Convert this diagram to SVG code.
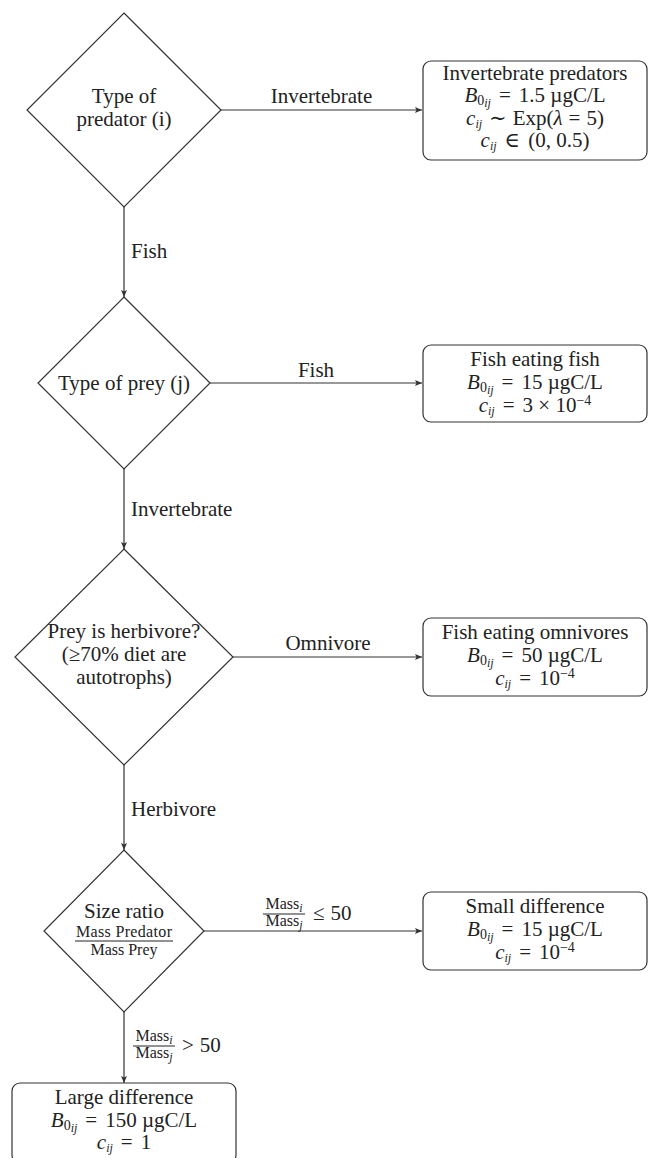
<svg xmlns="http://www.w3.org/2000/svg" width="651" height="1158" viewBox="0 0 651 1158">
<style>
.t{font-family:'Liberation Serif','Times New Roman','DejaVu Serif',serif;font-size:21px;fill:#222;text-anchor:middle}
.s{text-anchor:start}
.f{font-size:16px}
.i{font-style:italic}
.sub{font-size:14px}
.ss{font-size:12px;font-style:italic}
.shape{fill:#fff;stroke:#333;stroke-width:1.2}
.edge{fill:none;stroke:#333;stroke-width:1.2;marker-end:url(#arr)}
.bar{stroke:#222;stroke-width:1}
</style>
<defs>
<marker id="arr" markerUnits="userSpaceOnUse" markerWidth="8" markerHeight="6" refX="7" refY="3" orient="auto">
<path d="M0,0 L7,3 L0,6 L1.5,3 Z" fill="#333"/>
</marker>
</defs>
<g id="connectors">
<path class="edge" d="M221,110 H422"/>
<path class="edge" d="M124,207 V297"/>
<path class="edge" d="M210,383 H422"/>
<path class="edge" d="M124,469 V549"/>
<path class="edge" d="M233,657 H422"/>
<path class="edge" d="M124,765 V850"/>
<path class="edge" d="M204,931 H422"/>
<path class="edge" d="M124,1012 V1083"/>
<text class="t" x="321.5" y="103">Invertebrate</text>
<text class="t s" x="131" y="258">Fish</text>
<text class="t" x="316" y="377">Fish</text>
<text class="t s" x="131" y="516">Invertebrate</text>
<text class="t" x="328" y="650">Omnivore</text>
<text class="t s" x="131" y="816">Herbivore</text>
<g id="label-le50">
<text class="t f" x="284" y="909">Mass<tspan class="ss" dy="3">i</tspan></text>
<line class="bar" x1="263" y1="914" x2="305" y2="914"/>
<text class="t f" x="284" y="926">Mass<tspan class="ss" dy="3">j</tspan></text>
<text class="t s" x="313" y="920">≤<tspan dx="6">50</tspan></text>
</g>
<g id="label-gt50">
<text class="t f" x="154" y="1041">Mass<tspan class="ss" dy="3">i</tspan></text>
<line class="bar" x1="133" y1="1046" x2="175" y2="1046"/>
<text class="t f" x="154" y="1058">Mass<tspan class="ss" dy="3">j</tspan></text>
<text class="t s" x="182" y="1052">&gt;<tspan dx="6">50</tspan></text>
</g>
</g>
<g id="d1">
<polygon class="shape" points="124,13 221,110 124,207 27,110"/>
<text class="t" x="124" y="103">Type of</text>
<text class="t" x="124" y="126">predator (i)</text>
</g>
<g id="d2">
<polygon class="shape" points="124,297 210,383 124,469 38,383"/>
<text class="t" x="124" y="390">Type of prey (j)</text>
</g>
<g id="d3">
<polygon class="shape" points="124,549 233,657 124,765 15,657"/>
<text class="t" x="124" y="638">Prey is herbivore?</text>
<text class="t" x="124" y="661">(≥70% diet are</text>
<text class="t" x="124" y="684">autotrophs)</text>
</g>
<g id="d4">
<polygon class="shape" points="124,850 204,931 124,1012 44,931"/>
<text class="t" x="124" y="918">Size ratio</text>
<text class="t f" x="124" y="937" textLength="96">Mass Predator</text>
<line class="bar" x1="75" y1="941" x2="173" y2="941"/>
<text class="t f" x="124" y="955">Mass Prey</text>
</g>
<g id="b1">
<rect class="shape" x="423" y="61" width="224" height="99" rx="8"/>
<text class="t" x="535" y="80">Invertebrate predators</text>
<text class="t" x="535" y="102"><tspan class="i">B</tspan><tspan class="sub" dy="3">0</tspan><tspan class="ss" dy="2">ij</tspan><tspan dy="-5" dx="8">=</tspan><tspan dx="8">1.5 µgC/L</tspan></text>
<text class="t" x="535" y="125"><tspan class="i">c</tspan><tspan class="ss" dy="3">ij</tspan><tspan dy="-3" dx="7">∼</tspan><tspan dx="6">Exp(</tspan><tspan class="i">λ</tspan><tspan dx="6">=</tspan><tspan dx="6">5)</tspan></text>
<text class="t" x="535" y="147"><tspan class="i">c</tspan><tspan class="ss" dy="3">ij</tspan><tspan dy="-3" dx="8">∈</tspan><tspan dx="8">(0, 0.5)</tspan></text>
</g>
<g id="b2">
<rect class="shape" x="423" y="345" width="224" height="77" rx="8"/>
<text class="t" x="535" y="366">Fish eating fish</text>
<text class="t" x="535" y="389"><tspan class="i">B</tspan><tspan class="sub" dy="3">0</tspan><tspan class="ss" dy="2">ij</tspan><tspan dy="-5" dx="8">=</tspan><tspan dx="8">15 µgC/L</tspan></text>
<text class="t" x="535" y="412"><tspan class="i">c</tspan><tspan class="ss" dy="3">ij</tspan><tspan dy="-3" dx="8">=</tspan><tspan dx="8">3 × 10</tspan><tspan class="sub" dy="-7">−4</tspan></text>
</g>
<g id="b3">
<rect class="shape" x="423" y="618" width="224" height="78" rx="8"/>
<text class="t" x="535" y="639">Fish eating omnivores</text>
<text class="t" x="535" y="662"><tspan class="i">B</tspan><tspan class="sub" dy="3">0</tspan><tspan class="ss" dy="2">ij</tspan><tspan dy="-5" dx="8">=</tspan><tspan dx="8">50 µgC/L</tspan></text>
<text class="t" x="535" y="685"><tspan class="i">c</tspan><tspan class="ss" dy="3">ij</tspan><tspan dy="-3" dx="8">=</tspan><tspan dx="8">10</tspan><tspan class="sub" dy="-7">−4</tspan></text>
</g>
<g id="b4">
<rect class="shape" x="423" y="892" width="224" height="78" rx="8"/>
<text class="t" x="535" y="913">Small difference</text>
<text class="t" x="535" y="936"><tspan class="i">B</tspan><tspan class="sub" dy="3">0</tspan><tspan class="ss" dy="2">ij</tspan><tspan dy="-5" dx="8">=</tspan><tspan dx="8">15 µgC/L</tspan></text>
<text class="t" x="535" y="959"><tspan class="i">c</tspan><tspan class="ss" dy="3">ij</tspan><tspan dy="-3" dx="8">=</tspan><tspan dx="8">10</tspan><tspan class="sub" dy="-7">−4</tspan></text>
</g>
<g id="b5">
<rect class="shape" x="12" y="1083" width="224" height="80" rx="8"/>
<text class="t" x="124" y="1104">Large difference</text>
<text class="t" x="124" y="1127"><tspan class="i">B</tspan><tspan class="sub" dy="3">0</tspan><tspan class="ss" dy="2">ij</tspan><tspan dy="-5" dx="8">=</tspan><tspan dx="8">150 µgC/L</tspan></text>
<text class="t" x="124" y="1149"><tspan class="i">c</tspan><tspan class="ss" dy="3">ij</tspan><tspan dy="-3" dx="8">=</tspan><tspan dx="8">1</tspan></text>
</g>
</svg>
